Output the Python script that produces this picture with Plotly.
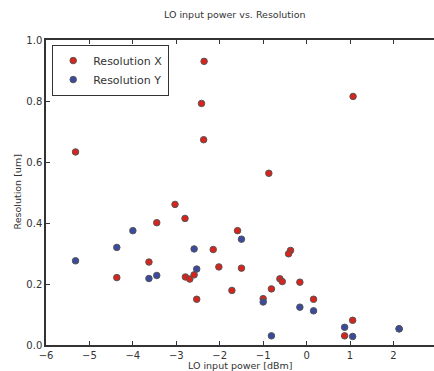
import plotly.graph_objects as go

# Data
res_x_power = [-5.32, -3.99, -2.36, -2.42, -2.37, 1.07, -0.87, -4.37, -3.45, -3.63,
               -3.03, -2.80, -2.15, -2.79, -2.69, -2.59, -2.53, -2.02, -1.59, -1.50,
               -1.72, -1.00, -0.81, -0.615, -0.56, -0.37, -0.415, -0.155, 0.16, 1.06,
               0.875, 2.13]
res_x_val = [0.633, 0.847, 0.930, 0.792, 0.673, 0.815, 0.563, 0.221, 0.401, 0.272,
             0.461, 0.415, 0.313, 0.223, 0.216, 0.230, 0.150, 0.256, 0.375, 0.252,
             0.179, 0.152, 0.184, 0.217, 0.208, 0.310, 0.299, 0.206, 0.150, 0.081,
             0.030, 0.053]

res_y_power = [-5.32, -4.37, -4.00, -3.63, -3.45, -2.59, -2.53, -1.50, -1.00, -0.81,
               -0.155, 0.16, 0.875, 1.06, 2.13]
res_y_val = [0.276, 0.320, 0.375, 0.218, 0.228, 0.315, 0.249, 0.347, 0.141, 0.030,
             0.124, 0.112, 0.058, 0.028, 0.053]

x_ticks = [-6, -5, -4, -3, -2, -1, 0, 1, 2]
y_ticks = [0.0, 0.2, 0.4, 0.6, 0.8, 1.0]

FONT = "DejaVu Sans"
marker_line = dict(color="#555555", width=1)

fig = go.Figure()
fig.add_trace(go.Scatter(x=res_x_power, y=res_x_val, mode="markers", name="Resolution X",
                         marker=dict(color="#d8241c", size=6.5, line=marker_line)))
fig.add_trace(go.Scatter(x=res_y_power, y=res_y_val, mode="markers", name="Resolution Y",
                         marker=dict(color="#3a4a9e", size=6.5, line=marker_line)))

axis_common = dict(showgrid=False, zeroline=False, showline=True, linecolor="#333333",
                   linewidth=1.5, ticks="inside", ticklen=4, tickcolor="#333333",
                   tickfont=dict(family=FONT, size=10, color="#333333"))

fig.update_layout(
    width=434, height=371,
    margin=dict(l=46, r=0, t=40, b=26),
    paper_bgcolor="white", plot_bgcolor="white",
    showlegend=True,
    legend=dict(x=0.0155, y=0.984, xanchor="left", yanchor="top",
                bgcolor="white", bordercolor="#333333", borderwidth=1.2,
                font=dict(family=FONT, size=11, color="#333333"),
                tracegroupgap=0),
    xaxis=dict(range=[-6, 2.933], tickvals=x_ticks, mirror="ticks", **axis_common),
    yaxis=dict(range=[0, 1.0], tickvals=y_ticks, tickformat=".1f", mirror=False, **axis_common),
)

fig.add_annotation(text="LO input power vs. Resolution", xref="paper", yref="paper",
                   x=0.487, y=1 + 25 / 305, xanchor="center", yanchor="middle", showarrow=False,
                   font=dict(family=FONT, size=9.5, color="#333333"))
fig.add_annotation(text="LO input power [dBm]", xref="paper", yref="paper",
                   x=0.50, y=-20 / 305, xanchor="center", yanchor="middle", showarrow=False,
                   font=dict(family=FONT, size=9.5, color="#333333"))
fig.add_annotation(text="Resolution [um]", xref="paper", yref="paper",
                   x=-29 / 388, y=0.5, xanchor="center", yanchor="middle", showarrow=False,
                   textangle=-90,
                   font=dict(family=FONT, size=9.5, color="#333333"))

fig.write_html("out.html")
